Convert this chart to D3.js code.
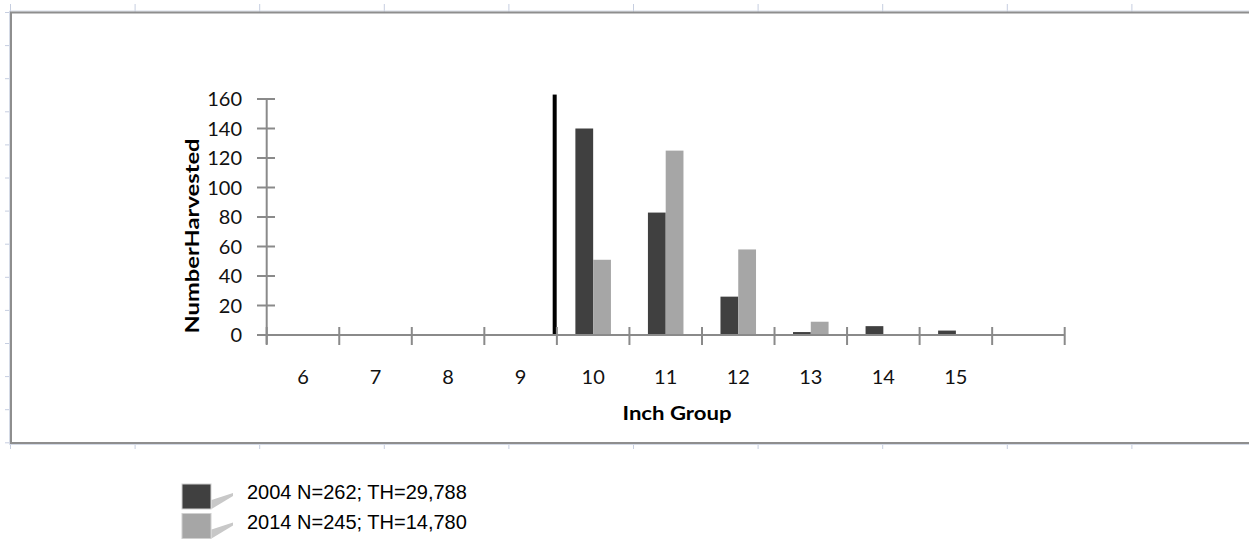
<!DOCTYPE html>
<html>
<head>
<meta charset="utf-8">
<script src="https://cdn.jsdelivr.net/npm/d3@7"></script>
<style>
  body { margin: 0; background: #fff; }
  svg { display: block; }
  .tick-label { font-family: Lato, "Open Sans", sans-serif; font-size: 20px; fill: #111; }
  .axis-title { font-family: Lato, "Open Sans", sans-serif; font-size: 19px; font-weight: bold; fill: #000; }
  .legend-text { font-family: "Liberation Sans", Arial, sans-serif; font-size: 20px; fill: #000; }
</style>
</head>
<body>
<div id="chart"></div>
<script>
// inch groups (last band is empty, no label)
var inchGroups = ["6", "7", "8", "9", "10", "11", "12", "13", "14", "15", "16"]
var tickLabels = ["6", "7", "8", "9", "10", "11", "12", "13", "14", "15", ""]
var counts2004 = [0, 0, 0, 0, 140, 83, 26, 2, 6, 3, 0]
var counts2014 = [0, 0, 0, 0, 51, 125, 58, 9, 0, 0, 0]
var yTicks = [0, 20, 40, 60, 80, 100, 120, 140, 160]
// minimum size line drawn just left of the 10 inch group
var minSizeGroup = "10"
var minSizeValue = 163
var legendLabels = ["2004 N=262; TH=29,788", "2014 N=245; TH=14,780"]
var seriesColors = ["#404040", "#a6a6a6"]

var width = 1249, height = 541

var svg = d3.select("#chart").append("svg")
    .attr("width", width)
    .attr("height", height)

// ---- outer frame with ruler-like ticks ----
var frame = { left: 11, top: 12.5, bottom: 443 }
var rulerColor = "#c6cee0"

svg.append("g").selectAll("line")
    .data(d3.range(0, 10))
  .enter().append("line")
    .attr("x1", function(i){ return frame.left - 0.5 + i * 124.6 })
    .attr("x2", function(i){ return frame.left - 0.5 + i * 124.6 })
    .attr("y1", 4).attr("y2", frame.top)
    .attr("stroke", rulerColor)
svg.append("g").selectAll("line")
    .data(d3.range(0, 10))
  .enter().append("line")
    .attr("x1", function(i){ return frame.left - 0.5 + i * 124.6 })
    .attr("x2", function(i){ return frame.left - 0.5 + i * 124.6 })
    .attr("y1", frame.bottom).attr("y2", frame.bottom + 6)
    .attr("stroke", rulerColor)
svg.append("g").selectAll("line")
    .data(d3.range(0, 14))
  .enter().append("line")
    .attr("x1", 5).attr("x2", frame.left)
    .attr("y1", function(i){ return frame.top + i * 33.1 })
    .attr("y2", function(i){ return frame.top + i * 33.1 })
    .attr("stroke", rulerColor)

svg.append("path")
    .attr("d", "M" + width + "," + (frame.top - 1.5) + "H" + (frame.left - 1.5) + "V" + (frame.bottom + 1.5) + "H" + width)
    .attr("fill", "none").attr("stroke", "#d4dae6").attr("stroke-width", 1)
svg.append("path")
    .attr("d", "M" + width + "," + frame.top + "H" + frame.left + "V" + frame.bottom + "H" + width)
    .attr("fill", "none").attr("stroke", "#8e8e8e").attr("stroke-width", 2)

// ---- scales ----
var x = d3.scaleBand().domain(inchGroups).range([266.7, 1064.7])
var y = d3.scaleLinear().domain([0, 160]).range([335, 99])
var bw = x.bandwidth()
var barW = bw * 0.245
var axisColor = "#8a8a8a"

var plot = svg.append("g")

// bars
var series = [counts2004, counts2014]
series.forEach(function(vals, s){
  plot.append("g").selectAll("rect")
      .data(vals.map(function(v, i){ return { g: inchGroups[i], v: v } }).filter(function(d){ return d.v > 0 }))
    .enter().append("rect")
      .attr("x", function(d){ return x(d.g) + bw / 2 - barW + s * barW })
      .attr("y", function(d){ return y(d.v) })
      .attr("width", barW)
      .attr("height", function(d){ return y(0) - y(d.v) })
      .attr("fill", seriesColors[s])
})

// minimum size line
plot.append("rect")
    .attr("x", x(minSizeGroup) - 4.2)
    .attr("y", y(minSizeValue))
    .attr("width", 4)
    .attr("height", y(0) - y(minSizeValue))
    .attr("fill", "#000")

// y axis
plot.append("line")
    .attr("x1", 266.7).attr("x2", 266.7)
    .attr("y1", y(160)).attr("y2", y(0) + 9)
    .attr("stroke", axisColor).attr("stroke-width", 2)
plot.append("g").selectAll("line")
    .data(yTicks)
  .enter().append("line")
    .attr("x1", 257).attr("x2", 275)
    .attr("y1", function(d){ return y(d) }).attr("y2", function(d){ return y(d) })
    .attr("stroke", axisColor).attr("stroke-width", 2)
plot.append("g").selectAll("text")
    .data(yTicks)
  .enter().append("text")
    .attr("class", "tick-label")
    .attr("x", 242)
    .attr("y", function(d){ return y(d) + 7 })
    .attr("text-anchor", "end")
    .text(function(d){ return d })

// x axis
var xEnd = x.range()[1]
plot.append("line")
    .attr("x1", 257).attr("x2", xEnd)
    .attr("y1", y(0)).attr("y2", y(0))
    .attr("stroke", axisColor).attr("stroke-width", 2)
plot.append("g").selectAll("line")
    .data(inchGroups.map(function(g){ return x(g) }).concat([xEnd]))
  .enter().append("line")
    .attr("x1", function(d){ return d }).attr("x2", function(d){ return d })
    .attr("y1", y(0) - 8).attr("y2", y(0) + 10)
    .attr("stroke", axisColor).attr("stroke-width", 2)
plot.append("g").selectAll("text")
    .data(inchGroups)
  .enter().append("text")
    .attr("class", "tick-label")
    .attr("x", function(d){ return x(d) + bw / 2 })
    .attr("y", 384)
    .attr("text-anchor", "middle")
    .text(function(d, i){ return tickLabels[i] })

// axis titles
plot.append("text")
    .attr("class", "axis-title")
    .attr("text-anchor", "middle")
    .attr("transform", "translate(677,420)")
    .attr("textLength", 109)
    .attr("lengthAdjust", "spacingAndGlyphs")
    .text("Inch Group")
plot.append("text")
    .attr("class", "axis-title")
    .attr("text-anchor", "middle")
    .attr("transform", "translate(199,236) rotate(-90)")
    .attr("textLength", 195)
    .attr("lengthAdjust", "spacingAndGlyphs")
    .text("NumberHarvested")

// ---- legend ----
var legend = svg.append("g").selectAll("g")
    .data(legendLabels)
  .enter().append("g")
    .attr("transform", function(d, i){ return "translate(182," + (484 + i * 29.5) + ")" })

legend.append("rect")
    .attr("width", 29).attr("height", 25)
    .attr("fill", function(d, i){ return seriesColors[i] })
    .attr("stroke", "#d0d0d0").attr("stroke-width", 1)
legend.append("polygon")
    .attr("points", "29.5,16 51,9 51,12 29.5,25")
    .attr("fill", "#c8c8c8")
legend.append("text")
    .attr("class", "legend-text")
    .attr("x", 65)
    .attr("y", 15)
    .text(function(d){ return d })
</script>
</body>
</html>
